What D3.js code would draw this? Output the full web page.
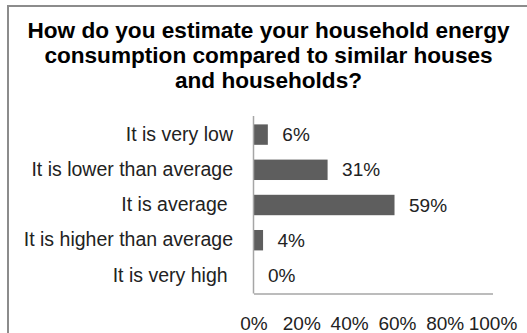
<!DOCTYPE html>
<html>
<head>
<meta charset="utf-8">
<script src="https://cdn.jsdelivr.net/npm/d3@7"></script>
<style>
  html, body { margin: 0; padding: 0; background: #fff; }
  svg { display: block; }
  text { font-family: "Liberation Sans", Arial, sans-serif; white-space: pre; }
</style>
</head>
<body>
<svg id="chart" width="527" height="333"></svg>
<script>
const titleLines = [
  "How do you estimate your household energy",
  "consumption compared to similar houses",
  "and households?"
];
const categories = [
  "It is very low",
  "It is lower than average",
  "It is average ",
  "It is higher than average",
  "It is very high "
];
const values = [0.06, 0.31, 0.59, 0.04, 0.00];
const valueLabels = ["6%", "31%", "59%", "4%", "0%"];
const xTicks = [0, 0.2, 0.4, 0.6, 0.8, 1.0];
const xTickLabels = ["0%", "20%", "40%", "60%", "80%", "100%"];

const svg = d3.select("#chart");
const W = 527, H = 333;

svg.append("rect").attr("width", W).attr("height", H).attr("fill", "#fff");
// outer frame (left and top visible, right/bottom clipped)
svg.append("rect")
  .attr("x", 8).attr("y", 6)
  .attr("width", W + 10).attr("height", H + 10)
  .attr("fill", "none").attr("stroke", "#8c8c8c").attr("stroke-width", 2);

// title
const title = svg.append("text")
  .attr("text-anchor", "middle")
  .attr("font-weight", "bold")
  .attr("font-size", 22.6)
  .attr("fill", "#000");
title.selectAll("tspan").data(titleLines).join("tspan")
  .attr("x", 268.5)
  .attr("y", (d, i) => 37.5 + i * 25.3)
  .text(d => d);

const x = d3.scaleLinear().domain([0, 1]).range([253.5, 492.5]);
const y = d3.scaleBand().domain(categories).range([117, 293])
  .paddingInner(0.42).paddingOuter(0.21);

// bars
svg.append("g").selectAll("rect").data(values).join("rect")
  .attr("x", x(0))
  .attr("y", (d, i) => y(categories[i]))
  .attr("width", d => x(d) - x(0))
  .attr("height", y.bandwidth())
  .attr("fill", "#5e5e5e");

// value labels
svg.append("g").selectAll("text").data(values).join("text")
  .attr("x", d => x(d) + 14.5)
  .attr("y", (d, i) => y(categories[i]) + y.bandwidth() / 2)
  .attr("dy", "0.35em")
  .attr("font-size", 19)
  .attr("fill", "#222")
  .text((d, i) => valueLabels[i]);

// y axis
const yAxis = d3.axisLeft(y).tickSize(0).tickPadding(20);
const gy = svg.append("g").attr("transform", `translate(${x(0)},0)`).call(yAxis);
gy.select(".domain").attr("stroke", "#a6a6a6").attr("stroke-width", 1.5)
  .attr("d", `M0,116V293.5`);
gy.selectAll(".tick text")
  .attr("font-size", 19.5)
  .attr("font-family", "Liberation Sans, Arial, sans-serif")
  .attr("fill", "#222")
  .attr("x", 233 - x(0));

// x axis
const xAxis = d3.axisBottom(x).tickValues(xTicks).tickSize(0).tickPadding(23)
  .tickFormat((d, i) => xTickLabels[i]);
const gx = svg.append("g").attr("transform", `translate(0,293.5)`).call(xAxis);
gx.select(".domain").attr("stroke", "#a6a6a6").attr("stroke-width", 1.5);
gx.selectAll(".tick text")
  .attr("font-size", 19)
  .attr("font-family", "Liberation Sans, Arial, sans-serif")
  .attr("fill", "#222");
</script>
</body>
</html>
